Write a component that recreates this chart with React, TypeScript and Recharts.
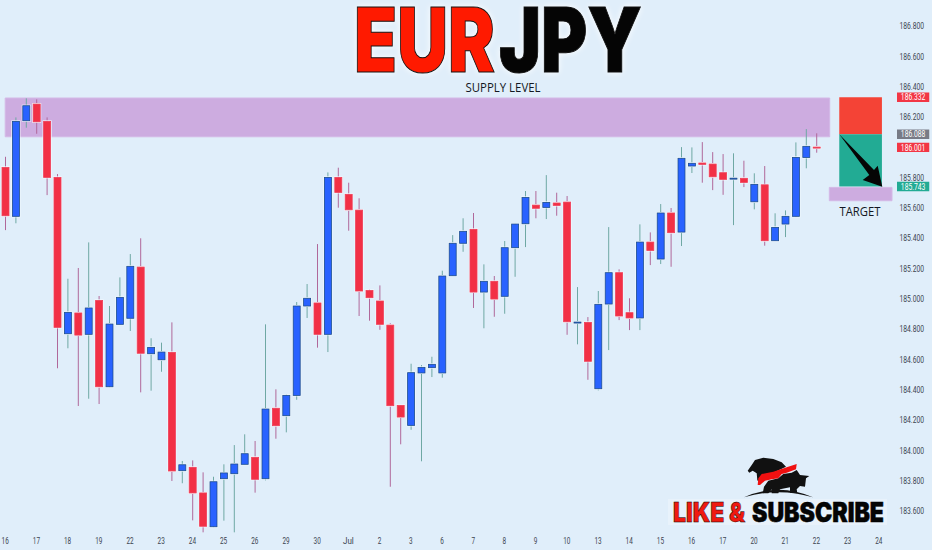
import { Bar, BarChart, ReferenceArea, XAxis, YAxis } from "recharts";

const CHART_W = 932;
const CHART_H = 550;
const BG = "#e0eefa";
const FONT = "Roboto, sans-serif";

// 9h EUR/JPY candles
const opens = [
  185.869, 185.546, 186.177, 186.287, 186.173, 185.803, 184.771, 184.908, 184.767, 184.991,
  184.421, 184.833, 184.873, 185.211, 184.639, 184.599, 184.648, 183.867, 183.889, 183.72,
  183.497, 183.814, 183.847, 183.909, 183.955, 183.814, 184.279, 184.23, 184.364, 184.954,
  184.974, 184.767, 185.803, 185.691, 185.587, 185.057, 184.987, 184.828, 184.298, 184.166,
  184.512, 184.547, 184.512, 185.154, 185.368, 185.46, 185.046, 185.117, 185.018, 185.339,
  185.497, 185.62, 185.605, 185.634, 185.64, 184.846, 184.846, 184.408, 184.967, 185.174,
  184.91, 184.875, 185.376, 185.264, 185.568, 185.442, 185.878, 185.898, 185.891, 185.834,
  185.796, 185.797, 185.642, 185.754, 185.385, 185.495, 185.546, 185.935, 186.003,
];
const highs = [
  185.939, 186.199, 186.325, 186.318, 186.199, 185.825, 185.134, 185.205, 185.374, 185.02,
  184.954, 185.143, 185.297, 185.401, 184.741, 184.712, 184.846, 183.931, 183.935, 183.856,
  183.827, 183.909, 184.036, 184.107, 184.063, 184.833, 184.404, 184.371, 184.98, 185.099,
  185.363, 185.836, 185.867, 185.768, 185.665, 185.064, 185.09, 184.84, 184.298, 184.573,
  184.564, 184.619, 185.187, 185.422, 185.533, 185.568, 185.229, 185.152, 185.383, 185.502,
  185.713, 185.713, 185.818, 185.702, 185.68, 185.079, 184.881, 185.053, 185.475, 185.196,
  185.005, 185.493, 185.44, 185.627, 185.601, 186.003, 186.001, 186.036, 185.97, 185.957,
  185.962, 185.913, 185.83, 185.878, 185.566, 185.585, 186.034, 186.122, 186.094,
];
const lows = [
  185.455, 185.5, 186.131, 186.091, 185.686, 184.543, 184.675, 184.294, 184.342, 184.307,
  184.417, 184.83, 184.789, 184.384, 184.395, 184.52, 183.799, 183.784, 183.539, 183.46,
  183.493, 183.537, 183.46, 183.909, 183.722, 183.803, 184.078, 184.12, 184.335, 184.875,
  184.679, 184.65, 185.603, 185.451, 184.888, 184.857, 184.797, 183.761, 184.041, 184.137,
  183.929, 184.485, 184.481, 185.154, 185.312, 184.941, 184.807, 184.883, 184.903, 185.147,
  185.343, 185.533, 185.528, 185.55, 184.764, 184.701, 184.467, 184.397, 184.663, 184.861,
  184.795, 184.795, 185.224, 185.231, 185.213, 185.35, 185.832, 185.768, 185.719, 185.688,
  185.488, 185.739, 185.592, 185.352, 185.385, 185.409, 185.541, 185.863, 185.966,
];
const closes = [
  185.55, 186.173, 186.276, 186.17, 185.803, 184.813, 184.912, 184.762, 184.941, 184.421,
  184.835, 185.011, 185.216, 184.642, 184.681, 184.65, 183.865, 183.906, 183.72, 183.5,
  183.794, 183.852, 183.911, 183.979, 183.81, 184.274, 184.164, 184.364, 184.954, 185.005,
  184.767, 185.803, 185.704, 185.589, 185.053, 185.009, 184.833, 184.296, 184.221, 184.514,
  184.549, 184.569, 185.152, 185.368, 185.447, 185.046, 185.117, 185.0, 185.339, 185.495,
  185.671, 185.599, 185.638, 185.618, 184.85, 184.848, 184.589, 184.965, 185.174, 184.888,
  184.875, 185.376, 185.321, 185.568, 185.438, 185.929, 185.896, 185.889, 185.807, 185.79,
  185.798, 185.77, 185.757, 185.385, 185.473, 185.546, 185.935, 186.008, 186.001,
];

const dayLabels = [
  "16", "17", "18", "19", "22", "23", "24", "25", "26", "29", "30", "Jul", "2", "3", "6",
  "7", "8", "9", "10", "13", "14", "15", "16", "17", "20", "21", "22", "23", "24",
];
const dayTicks = [
  0, 3, 6, 9, 12, 15, 18, 21, 24, 27, 30, 33, 36, 39, 42, 45, 48, 51, 54, 57, 60, 63, 66, 69,
  72, 75, 78, 81, 84,
];
const priceTicks = [
  183.6, 183.8, 184, 184.2, 184.4, 184.6, 184.8, 185, 185.2, 185.4, 185.6, 185.8, 186.2, 186.4,
  186.6, 186.8,
];

const stopPrice = 186.332;
const entryPrice = 186.088;
const lastPrice = 186.001;
const targetPrice = 185.743;

const candles = opens.map((open, i) => ({
  idx: i,
  open,
  close: closes[i],
  high: highs[i],
  low: lows[i],
  range: [lows[i], highs[i]],
}));

function Candle(props: any) {
  const { x, y, width, height, payload } = props;
  const top = Math.min(y, y + height);
  const h = Math.abs(height);
  const span = payload.high - payload.low;
  const toY = (v: number) => top + ((payload.high - v) / span) * h;
  const up = payload.close >= payload.open;
  const bodyTop = toY(Math.max(payload.open, payload.close));
  const bodyH = Math.max(toY(Math.min(payload.open, payload.close)) - bodyTop, 1);
  const cx = x + width / 2;
  return (
    <g>
      <line
        x1={cx}
        x2={cx}
        y1={top}
        y2={top + h}
        stroke={up ? "#6fa8a4" : "#b0689a"}
        strokeWidth={1}
      />
      <rect
        x={x - 0.5}
        y={bodyTop - 0.5}
        width={width + 1}
        height={bodyH + 1}
        fill="none"
        stroke="#f4f9fd"
        strokeWidth={1}
      />
      <rect
        x={x}
        y={bodyTop}
        width={width}
        height={bodyH}
        fill={up ? "#2962ff" : "#f23045"}
        stroke={up ? "#1d4f8f" : "#f0405a"}
        strokeWidth={0.8}
      />
    </g>
  );
}

function DayTick({ x, payload }: any) {
  const label = dayLabels[dayTicks.indexOf(payload.value)];
  return (
    <text
      x={x}
      y={544}
      textAnchor="middle"
      fontFamily={FONT}
      fontSize={9.5}
      fill="#3c4450"
      textLength={label.length * 3.6}
      lengthAdjust="spacingAndGlyphs"
    >
      {label}
    </text>
  );
}

function PriceTick({ x, y, payload }: any) {
  return (
    <text
      x={x}
      y={y + 3}
      textAnchor="end"
      fontFamily={FONT}
      fontSize={9.5}
      fill="#3c4450"
      textLength={24.5}
      lengthAdjust="spacingAndGlyphs"
    >
      {payload.value.toFixed(3)}
    </text>
  );
}

function priceTag(value: number, fill: string) {
  return (
    <ReferenceArea
      x1={85.75}
      x2={88.85}
      y1={value - 0.031}
      y2={value + 0.031}
      fill={fill}
      fillOpacity={1}
      stroke="none"
      ifOverflow="visible"
      label={({ viewBox }: any) => (
        <text
          x={viewBox.x + viewBox.width / 2}
          y={viewBox.y + viewBox.height / 2 + 3.2}
          textAnchor="middle"
          fontFamily={FONT}
          fontSize={9.5}
          fill="#ffffff"
          textLength={24.5}
          lengthAdjust="spacingAndGlyphs"
        >
          {value.toFixed(3)}
        </text>
      )}
    />
  );
}

export default function App() {
  return (
    <div
      style={{
        position: "absolute",
        left: 0,
        top: 0,
        width: CHART_W,
        height: CHART_H,
        background: BG,
        overflow: "hidden",
      }}
    >
      <BarChart
        width={CHART_W}
        height={CHART_H}
        data={candles}
        margin={{ top: 0, right: 0, bottom: 0, left: 0 }}
      >
        <XAxis
          dataKey="idx"
          type="number"
          domain={[-0.5, 89.115]}
          ticks={dayTicks}
          interval={0}
          height={16}
          axisLine={false}
          tickLine={false}
          tick={<DayTick />}
        />
        <YAxis
          orientation="right"
          mirror
          width={48}
          domain={[183.449, 186.974]}
          ticks={priceTicks}
          interval={0}
          axisLine={false}
          tickLine={false}
          tick={<PriceTick />}
        />
        <ReferenceArea
          x1={0}
          x2={79.28}
          y1={186.071}
          y2={186.327}
          fill="#cdace0"
          fillOpacity={1}
          stroke="#d4b8e6"
        />
        <ReferenceArea
          x1={80.2}
          x2={84.3}
          y1={entryPrice}
          y2={stopPrice}
          fill="#f44336"
          fillOpacity={1}
          stroke="none"
        />
        <ReferenceArea
          x1={80.2}
          x2={84.3}
          y1={targetPrice}
          y2={entryPrice}
          fill="#22ab94"
          fillOpacity={1}
          stroke="none"
        />
        <ReferenceArea
          x1={79.24}
          x2={85.27}
          y1={185.649}
          y2={185.737}
          fill="#cdace0"
          fillOpacity={1}
          stroke="#d4b8e6"
        />
        <Bar dataKey="range" barSize={7} shape={Candle} isAnimationActive={false} />
        {priceTag(stopPrice, "#f23645")}
        {priceTag(entryPrice, "#787b86")}
        {priceTag(lastPrice, "#f23645")}
        {priceTag(targetPrice, "#22ab94")}
      </BarChart>

      {/* drawings on top of the chart */}
      <svg
        width={CHART_W}
        height={CHART_H}
        style={{ position: "absolute", left: 0, top: 0, pointerEvents: "none" }}
      >
        <g
          fontFamily="Inter, sans-serif"
          fontWeight={900}
          fontSize={89}
          stroke="#111111"
          strokeWidth={1}
          style={{ filter: "drop-shadow(0 0 3px #ffffff)" }}
        >
          <text x={354} y={72} fill="#ff1a00" textLength={141} lengthAdjust="spacingAndGlyphs">
            EUR
          </text>
          <text x={499} y={72} fill="#050505" textLength={143} lengthAdjust="spacingAndGlyphs">
            JPY
          </text>
        </g>
        <text
          x={503}
          y={92}
          textAnchor="middle"
          fontFamily="'Open Sans', sans-serif"
          fontSize={12}
          fill="#131722"
          textLength={75}
          lengthAdjust="spacingAndGlyphs"
        >
          SUPPLY LEVEL
        </text>
        <text
          x={860}
          y={216}
          textAnchor="middle"
          fontFamily="'Open Sans', sans-serif"
          fontSize={12.5}
          fill="#131722"
          textLength={41}
          lengthAdjust="spacingAndGlyphs"
        >
          TARGET
        </text>

        {/* arrow down to the target */}
        <polygon
          points="839.3,134.3 874,170 877.7,165.7 882.3,186.7 862.7,180 869.3,175"
          fill="#050505"
        />

        {/* bear and bull logo */}
        <polygon
          points="747.7,470.7 751.7,465 755,460 763.3,457.7 773.3,459 781.7,462.3 786,466.7 773.3,472.7 766,474 761.7,478.3 759.3,483.3 757.3,480 756.7,473.3 752.7,470.7 749.3,472.7"
          fill="#111111"
        />
        <polygon
          points="796.7,470 800,475 809.3,476 806,478.3 805,486.7 800,486 796.7,489.3 797.3,493.3 790,492.7 790,487.3 780,489.3 778.3,493.3 771.7,493.3 771.7,489.3 768.3,493.3 762.7,493.3 764,486.7 768.3,480.7 778.3,478.3 783.3,474 791.7,472.7"
          fill="#111111"
        />
        <polygon
          points="757.7,485 758.3,478.3 761.7,474 773.3,471.7 786.7,467.3 796.7,464 796,469.3 786.7,472.7 781.7,474 778.3,478.3 771.7,479.3 765,480.7 760,485"
          fill="#f01010"
        />
        <path d="M744,497.3 Q779,482 813,497.3 Q779,487 744,497.3 Z" fill="#111111" />

        <rect x={668} y={499} width={219} height={26} fill="#e8f2fb" />
        <g fontFamily="Inter, sans-serif" fontWeight={900} fontSize={26.5} stroke="#000" strokeWidth={0.5}>
          <text x={673} y={521.7} fill="#f01a10" textLength={72} lengthAdjust="spacingAndGlyphs">
            LIKE &amp;
          </text>
          <text x={752} y={521.7} fill="#050505" textLength={132} lengthAdjust="spacingAndGlyphs">
            SUBSCRIBE
          </text>
        </g>
      </svg>
    </div>
  );
}
